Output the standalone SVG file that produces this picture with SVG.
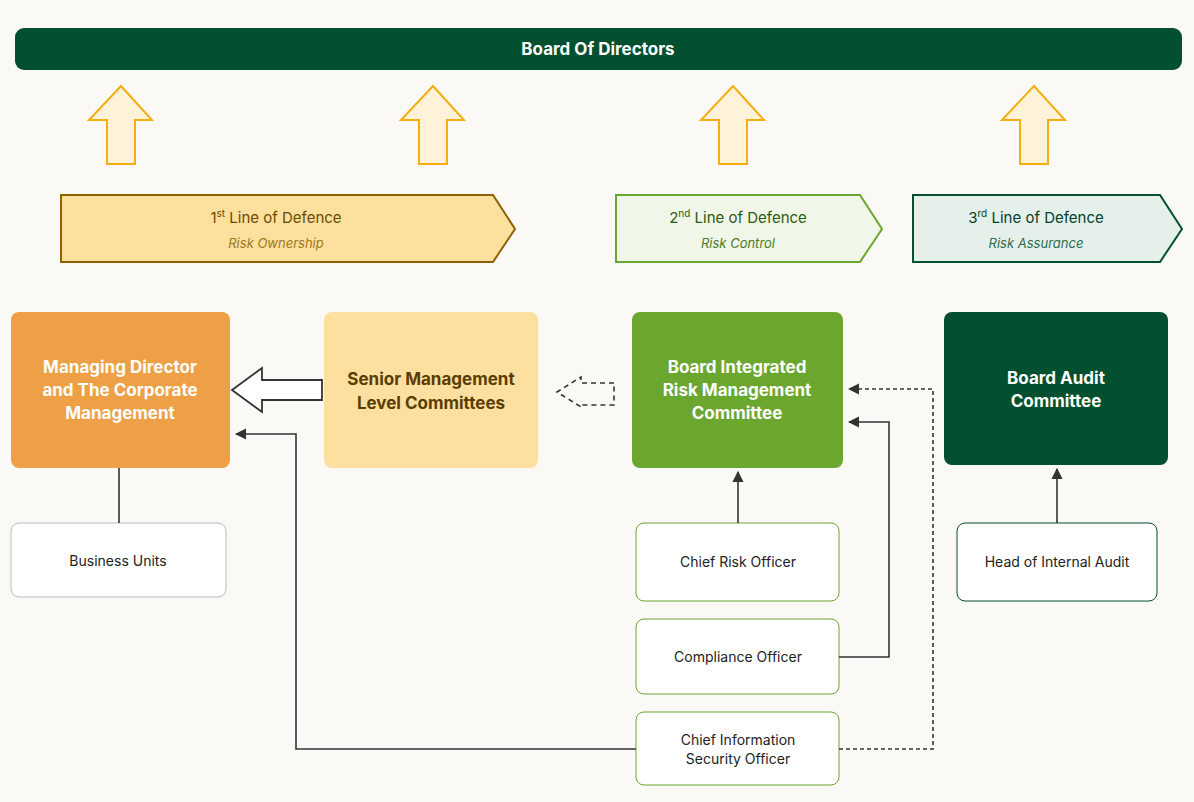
<svg xmlns="http://www.w3.org/2000/svg" width="1194" height="802" viewBox="0 0 1194 802">
<defs>
<style>
text{font-family:Inter,"Liberation Sans",sans-serif;text-anchor:middle}
.t{font-size:17px;font-weight:bold}
.s{font-size:14px;fill:#222}
.up{fill:#FEF3D8;stroke:#F5AE12;stroke-width:2}
.sb{fill:#fff;rx:8px}
.ln{fill:none;stroke:#333;stroke-width:1.6}
</style>
<marker id="a" viewBox="0 0 10 10" refX="9" refY="5" markerWidth="7" markerHeight="7" orient="auto-start-reverse"><path d="M0,0L10,5L0,10z" fill="#333"/></marker>
</defs>
<rect width="1194" height="802" fill="#FBF9F5"/>
<g id="board"><rect x="15" y="28" width="1167" height="42" rx="9" fill="#02502F"/><text x="598" y="55" class="t" fill="#fff">Board Of Directors</text></g>
<g id="uparrows">
<path class="up" d="M121,86L152,120H135V164H107V120H89Z"/>
<path class="up" d="M433,86L464,120H447V164H419V120H401Z"/>
<path class="up" d="M733,86L764,120H747V164H719V120H701Z"/>
<path class="up" d="M1034,86L1065,120H1048V164H1020V120H1002Z"/>
</g>
<g id="line1"><path d="M61,195H493L515,229L493,262H61Z" fill="#FDDF9E" stroke="#8E6200" stroke-width="2"/>
<text x="276" y="223" font-size="15" fill="#6B4A00">1<tspan font-size="10" dy="-6">st</tspan><tspan dy="6"> Line of Defence</tspan></text>
<text x="276" y="248" font-size="13" font-style="italic" fill="#A0771B">Risk Ownership</text></g>
<g id="line2"><path d="M616,195H860L882,229L860,262H616Z" fill="#F0F6E8" stroke="#6BA72E" stroke-width="2"/>
<text x="738" y="223" font-size="15" fill="#2F5A10">2<tspan font-size="10" dy="-6">nd</tspan><tspan dy="6"> Line of Defence</tspan></text>
<text x="738" y="248" font-size="13" font-style="italic" fill="#4E7A22">Risk Control</text></g>
<g id="line3"><path d="M913,195H1160L1182,229L1160,262H913Z" fill="#E6F0EA" stroke="#02502F" stroke-width="2"/>
<text x="1036" y="223" font-size="15" fill="#02402A">3<tspan font-size="10" dy="-6">rd</tspan><tspan dy="6"> Line of Defence</tspan></text>
<text x="1036" y="248" font-size="13" font-style="italic" fill="#2C6A4A">Risk Assurance</text></g>
<g id="md"><rect x="11" y="312" width="219" height="156" rx="8" fill="#EDA045"/>
<text class="t" fill="#fff"><tspan x="120" y="373">Managing Director</tspan><tspan x="120" y="396">and The Corporate</tspan><tspan x="120" y="419">Management</tspan></text></g>
<g id="sm"><rect x="324" y="312" width="214" height="156" rx="8" fill="#FDDFA0"/>
<text class="t" fill="#5A3D00"><tspan x="431" y="385">Senior Management</tspan><tspan x="431" y="409">Level Committees</tspan></text></g>
<g id="birmc"><rect x="632" y="312" width="211" height="156" rx="8" fill="#6BA72E"/>
<text class="t" fill="#fff"><tspan x="737" y="373">Board Integrated</tspan><tspan x="737" y="396">Risk Management</tspan><tspan x="737" y="419">Committee</tspan></text></g>
<g id="bac"><rect x="944" y="312" width="224" height="153" rx="8" fill="#02502F"/>
<text class="t" fill="#fff"><tspan x="1056" y="384">Board Audit</tspan><tspan x="1056" y="407">Committee</tspan></text></g>
<g id="bu"><rect x="11" y="523" width="215" height="74" rx="8" fill="#fff" stroke="#bbb"/><text x="118" y="566" class="s">Business Units</text></g>
<g id="cro"><rect x="636" y="523" width="203" height="78" rx="8" fill="#fff" stroke="#6BA72E"/><text x="738" y="567" class="s">Chief Risk Officer</text></g>
<g id="co"><rect x="636" y="619" width="203" height="75" rx="8" fill="#fff" stroke="#6BA72E"/><text x="738" y="662" class="s">Compliance Officer</text></g>
<g id="ciso"><rect x="636" y="712" width="203" height="73" rx="8" fill="#fff" stroke="#6BA72E"/><text class="s"><tspan x="738" y="745">Chief Information</tspan><tspan x="738" y="764">Security Officer</tspan></text></g>
<g id="hia"><rect x="957" y="523" width="200" height="78" rx="8" fill="#fff" stroke="#02502F"/><text x="1057" y="567" class="s">Head of Internal Audit</text></g>
<g id="connectors">
<path d="M322,380H262V368L232,390L262,412V400H322Z" fill="#fff" stroke="#333" stroke-width="1.8"/>
<path d="M614,383H581V377L557,392L581,407V405H614Z" fill="none" stroke="#333" stroke-width="1.6" stroke-dasharray="5,4"/>
<path class="ln" d="M119,468V523"/>
<path class="ln" d="M738,523V472" marker-end="url(#a)"/>
<path class="ln" d="M1057,523V469" marker-end="url(#a)"/>
<path class="ln" d="M839,657H889V422H849" marker-end="url(#a)"/>
<path class="ln" d="M636,749H296V434H236" marker-end="url(#a)"/>
<path class="ln" d="M839,749H933V389H849" stroke-dasharray="4,3" marker-end="url(#a)"/>
</g>
</svg>
